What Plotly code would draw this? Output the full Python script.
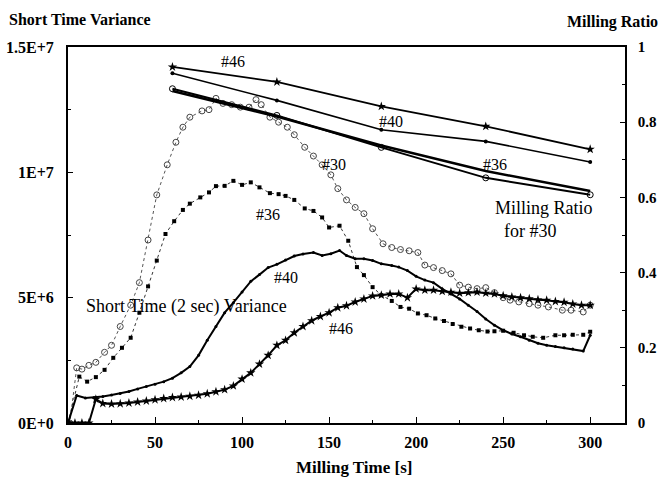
import plotly.graph_objects as go

# ---------------- data ----------------
# Short time variance (units of 1e6)
t30 = [0, 1, 5, 8, 12, 16, 21, 25, 30, 36, 41, 46, 51, 57, 62, 66, 70, 77, 81, 85,
       89, 94, 99, 104, 108, 111, 116, 121, 126, 130, 136, 141, 146, 151, 155, 160,
       165, 170, 175, 181, 186, 191, 196, 201, 205, 210, 215, 220, 225, 230, 235,
       240, 245, 250, 254, 259, 265, 270, 276, 284, 289, 296, 300]
v30 = [0, 0, 2.2, 2.15, 2.3, 2.42, 2.82, 3.1, 3.85, 4.7, 5.6, 7.3, 9.1, 10.3, 11.2,
       11.8, 12.2, 12.45, 12.5, 12.95, 12.75, 12.7, 12.6, 12.6, 12.9, 12.7, 12.2,
       12.0, 11.8, 11.5, 11.0, 10.65, 10.3, 9.9, 9.35, 8.9, 8.6, 8.35, 7.75, 7.15,
       7.0, 6.92, 6.87, 6.8, 6.3, 6.2, 6.08, 5.95, 5.5, 5.42, 5.36, 5.4, 5.2, 5.0,
       4.9, 4.83, 4.76, 4.7, 4.63, 4.5, 4.5, 4.43, 4.7]

t36 = [0, 6.5, 11, 16, 21, 26, 31, 36, 41, 46, 51, 56, 61, 66, 70, 76, 81, 85, 90, 95,
       100, 105, 110, 116, 121, 125, 130, 136, 141, 146, 150, 156, 161, 166, 170,
       175, 180, 186, 191, 196, 201, 206, 211, 216, 221, 226, 231, 236, 241, 245,
       250, 256, 262, 267, 273, 280, 285, 290, 296, 300]
v36 = [0, 1.85, 1.65, 1.83, 2.12, 2.6, 3.0, 3.4, 4.4, 5.45, 6.48, 7.54, 8.05, 8.5,
       8.75, 9.0, 9.2, 9.45, 9.46, 9.66, 9.5, 9.6, 9.4, 9.17, 9.13, 9.06, 8.9, 8.56,
       8.46, 8.2, 7.8, 7.87, 7.27, 6.22, 5.9, 5.42, 5.1, 4.87, 4.63, 4.56, 4.37, 4.3,
       4.17, 4.07, 3.95, 3.84, 3.77, 3.7, 3.65, 3.66, 3.68, 3.6, 3.5, 3.44, 3.4, 3.5,
       3.5, 3.52, 3.52, 3.64]

t40 = [0, 5, 10, 15, 20, 25, 30, 35, 40, 45, 50, 55, 60, 65, 70, 75, 80, 85, 90, 95,
       100, 105, 110, 115, 120, 125, 130, 135, 141, 146, 151, 156, 160, 165, 170,
       175, 180, 186, 190, 195, 200, 205, 210, 215, 220, 225, 230, 235, 240, 245,
       250, 255, 260, 265, 270, 275, 280, 285, 290, 296, 300]
v40 = [0, 1.1, 1.0, 1.02, 1.06, 1.12, 1.18, 1.26, 1.36, 1.46, 1.55, 1.65, 1.79, 2.0,
       2.25, 2.7, 3.3, 3.85, 4.4, 4.8, 5.23, 5.65, 5.92, 6.2, 6.33, 6.5, 6.66, 6.74,
       6.8, 6.68, 6.75, 6.88, 6.68, 6.55, 6.55, 6.48, 6.35, 6.28, 6.22, 6.08, 5.85,
       5.7, 5.6, 5.35, 5.15, 4.95, 4.7, 4.45, 4.15, 3.9, 3.7, 3.55, 3.44, 3.3, 3.18,
       3.1, 3.05, 3.0, 2.95, 2.87, 3.5]

t46 = [0, 4, 8, 12, 16, 20, 25, 30, 35, 40, 45, 50, 55, 60, 65, 70, 75, 80, 85, 90,
       95, 100, 105, 110, 115, 120, 125, 130, 135, 140, 145, 150, 155, 160, 165, 170,
       175, 180, 185, 190, 195, 200, 205, 210, 215, 220, 225, 230, 235, 240, 245,
       250, 255, 260, 265, 270, 275, 280, 285, 290, 295, 300]
v46 = [0, 0, 0, 0, 0.95, 0.78, 0.76, 0.77, 0.8, 0.84, 0.88, 0.93, 0.98, 1.02, 1.04,
       1.07, 1.11, 1.17, 1.25, 1.33, 1.48, 1.75, 2.0, 2.35, 2.7, 3.1, 3.3, 3.6, 3.85,
       4.08, 4.25, 4.4, 4.6, 4.68, 4.83, 4.95, 5.07, 5.1, 5.15, 5.15, 5.0, 5.35, 5.3,
       5.3, 5.25, 5.22, 5.18, 5.2, 5.22, 5.18, 5.15, 5.08, 5.03, 5.0, 4.96, 4.92,
       4.9, 4.85, 4.82, 4.75, 4.7, 4.7]

# Milling ratio (right axis)
t_mill = [60, 120, 180, 240, 300]
mr46 = [0.947, 0.907, 0.842, 0.789, 0.728]
mr40 = [0.930, 0.858, 0.780, 0.749, 0.694]
mr36 = [0.883, 0.815, 0.738, 0.670, 0.617]
mr30 = [0.889, 0.818, 0.733, 0.652, 0.607]

x_ticks = [0, 50, 100, 150, 200, 250, 300]
y_ticks = [0, 5e6, 1e7, 1.5e7]
y_ticktext = ["0E+0", "5E+6", "1E+7", "1.5E+7"]
y2_ticks = [0, 0.2, 0.4, 0.6, 0.8, 1]
y2_ticktext = ["0", "0.2", "0.4", "0.6", "0.8", "1"]

for a, b in [(t30, v30), (t36, v36), (t40, v40), (t46, v46)]:
    assert len(a) == len(b)


def scale(v):
    return [x * 1e6 for x in v]


SERIF = "Liberation Serif, Times New Roman, serif"

# plot-area geometry (pixels) used to place paper-referenced texts
L, R, T, B = 68, 33, 47, 54
W, H = 658, 477
PW, PH = W - L - R, H - T - B


def px(x):
    return (x - L) / PW


def py(y):
    return (H - B - y) / PH


fig = go.Figure()

# variance curves
fig.add_trace(go.Scatter(x=t30, y=scale(v30), mode="lines+markers",
                         line=dict(color="#555555", width=1, dash="dot"),
                         marker=dict(symbol="circle-open", size=6, color="#444444",
                                     line=dict(width=1)),
                         showlegend=False))
fig.add_trace(go.Scatter(x=t36, y=scale(v36), mode="lines+markers",
                         line=dict(color="#333333", width=1, dash="dot"),
                         marker=dict(symbol="square", size=4, color="black"),
                         showlegend=False))
fig.add_trace(go.Scatter(x=t40, y=scale(v40), mode="lines+markers",
                         line=dict(color="black", width=2),
                         marker=dict(symbol="circle", size=3, color="black"),
                         showlegend=False))
fig.add_trace(go.Scatter(x=t46, y=scale(v46), mode="lines+markers",
                         line=dict(color="black", width=2),
                         marker=dict(symbol="star", size=7, color="black"),
                         showlegend=False))

# milling ratio lines
fig.add_trace(go.Scatter(x=t_mill, y=mr46, yaxis="y2", mode="lines+markers",
                         line=dict(color="black", width=1.8),
                         marker=dict(symbol="star", size=7, color="black"),
                         showlegend=False))
fig.add_trace(go.Scatter(x=t_mill, y=mr40, yaxis="y2", mode="lines+markers",
                         line=dict(color="black", width=1.6),
                         marker=dict(symbol="circle", size=4, color="black"),
                         showlegend=False))
fig.add_trace(go.Scatter(x=t_mill, y=mr36, yaxis="y2", mode="lines",
                         line=dict(color="black", width=2.5),
                         showlegend=False))
fig.add_trace(go.Scatter(x=t_mill, y=mr30, yaxis="y2", mode="lines+markers",
                         line=dict(color="black", width=2),
                         marker=dict(symbol="circle-open", size=6, color="black",
                                     line=dict(width=1)),
                         showlegend=False))

tickfont = dict(family=SERIF, size=16, color="black")
tickfont_r = dict(family=SERIF, size=15, color="black")

fig.update_layout(
    width=W, height=H,
    margin=dict(l=L, r=R, t=T, b=B, autoexpand=False),
    paper_bgcolor="white", plot_bgcolor="white",
    font=dict(family=SERIF, color="black"),
    xaxis=dict(range=[0, 320], tickvals=x_ticks,
               ticktext=["<b>%d</b>" % v for v in x_ticks],
               tickfont=tickfont, showgrid=False, zeroline=False, automargin=False,
               showline=True, linecolor="black", linewidth=1.5, mirror=True,
               ticks="inside", ticklen=6, tickcolor="black",
               minor=dict(dtick=25, tick0=0, ticks="inside", ticklen=3, tickcolor="black"),
               ticklabelstandoff=4),
    yaxis=dict(range=[0, 1.5e7], tickvals=y_ticks,
               ticktext=["<b>%s</b>" % s for s in y_ticktext],
               tickfont=tickfont, showgrid=False, zeroline=False, automargin=False,
               showline=True, linecolor="black", linewidth=2,
               ticks="inside", ticklen=5, tickcolor="black",
               minor=dict(dtick=2.5e6, tick0=0, ticks="inside", ticklen=3, tickcolor="black"),
               ticklabelstandoff=9),
    yaxis2=dict(range=[0, 1], overlaying="y", side="right", tickvals=y2_ticks,
                ticktext=["<b>%s</b>" % s for s in y2_ticktext],
                tickfont=tickfont_r, showgrid=False, zeroline=False, automargin=False,
                showline=True, linecolor="black", linewidth=1.5,
                ticks="inside", ticklen=5, tickcolor="black",
                minor=dict(dtick=0.1, tick0=0, ticks="inside", ticklen=3, tickcolor="black"),
                ticklabelstandoff=8),
)

ann_font = dict(family=SERIF, size=16, color="black")
# curve labels (variance, left axis)
fig.add_annotation(x=153, y=1.03e7, text="#30", showarrow=False, font=ann_font)
fig.add_annotation(x=115, y=8.33e6, text="#36", showarrow=False, font=ann_font)
fig.add_annotation(x=125, y=5.82e6, text="#40", showarrow=False, font=ann_font)
fig.add_annotation(x=157, y=3.77e6, text="#46", showarrow=False, font=ann_font)
fig.add_annotation(x=68.2, y=4.66e6, text="Short Time (2 sec) Variance",
                   showarrow=False, font=dict(family=SERIF, size=18, color="black"))
# milling ratio labels (right axis)
fig.add_annotation(x=95, y=0.961, yref="y2", text="#46", showarrow=False, font=ann_font)
fig.add_annotation(x=185.5, y=0.802, yref="y2", text="#40", showarrow=False, font=ann_font)
fig.add_annotation(x=245.5, y=0.688, yref="y2", text="#36", showarrow=False, font=ann_font)
fig.add_annotation(x=px(493), y=py(219), xref="paper", yref="paper",
                   text="Milling Ratio<br>  for #30", showarrow=False,
                   xanchor="left", yanchor="middle", align="left",
                   font=dict(family=SERIF, size=18, color="black"))

# axis titles
fig.add_annotation(x=px(7), y=py(20), xref="paper", yref="paper",
                   text="<b>Short Time Variance</b>", showarrow=False,
                   xanchor="left", yanchor="middle",
                   font=dict(family=SERIF, size=16, color="black"))
fig.add_annotation(x=px(565), y=py(22), xref="paper", yref="paper",
                   text="<b>Milling Ratio</b>", showarrow=False,
                   xanchor="left", yanchor="middle",
                   font=dict(family=SERIF, size=16, color="black"))
fig.add_annotation(x=px(354), y=py(467), xref="paper", yref="paper",
                   text="<b>Milling Time [s]</b>", showarrow=False,
                   xanchor="center", yanchor="middle",
                   font=dict(family=SERIF, size=17, color="black"))

fig.write_html("out.html", config={"displayModeBar": False},
               post_script=("document.body.style.margin='0';"
                            "document.body.style.overflow='hidden';"
                            "document.documentElement.style.overflow='hidden';"))
